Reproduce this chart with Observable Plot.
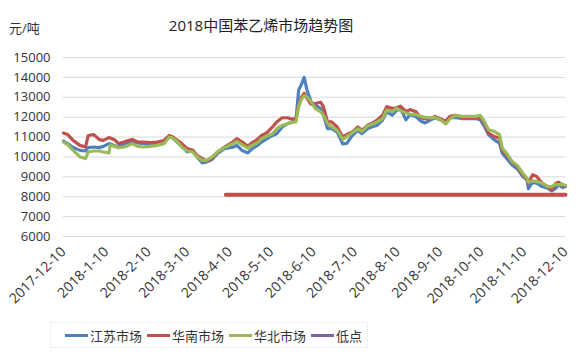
<!DOCTYPE html>
<html>
<head>
<meta charset="utf-8">
<script src="https://cdn.jsdelivr.net/npm/d3@7"></script>
<script src="https://cdn.jsdelivr.net/npm/@observablehq/plot@0.6"></script>
<style>
  html, body { margin: 0; padding: 0; background: #fff; }
  body { font-family: "Open Sans", "Noto Sans CJK SC", sans-serif; }
  #wrap { position: relative; width: 586px; height: 359px; overflow: hidden; }
  #title { position: absolute; top: 14px; left: 111px; width: 300px; text-align: center; font-size: 15px; color: #222; }
  #unit { position: absolute; top: 18px; left: 9px; font-size: 13px; color: #333; }
  #chart { position: absolute; top: 40px; left: 0; }
  #chart g[aria-label="x-axis tick label"] { font-size: 14px; }
  #legend { position: absolute; top: 322px; left: 50px; width: 318px; height: 26px; border: 1px solid #f0f0f0;
            display: flex; align-items: center; font-size: 13px; color: #333; box-sizing: border-box; padding-left: 14px;
            white-space: nowrap; }
  .item { display: flex; align-items: center; width: 82px; flex: 0 0 82px; white-space: nowrap; }
  .sw { width: 23px; height: 3px; margin-right: 2px; flex: 0 0 23px; }
</style>
</head>
<body>
<div id="wrap">
  <div id="title">2018中国苯乙烯市场趋势图</div>
  <div id="unit">元/吨</div>
  <div id="chart"></div>
  <div id="legend"></div>
</div>
<script>
const dates = [
  "2017-12-10","2017-12-13","2017-12-17","2017-12-22","2017-12-26","2017-12-28",
  "2018-01-01","2018-01-05","2018-01-08","2018-01-12","2018-01-13","2018-01-16","2018-01-19","2018-01-23","2018-01-26","2018-01-29",
  "2018-02-02","2018-02-06","2018-02-11","2018-02-16","2018-02-21","2018-02-25","2018-02-27",
  "2018-03-03","2018-03-06","2018-03-10","2018-03-14","2018-03-17","2018-03-21","2018-03-24","2018-03-28",
  "2018-04-01","2018-04-06","2018-04-12","2018-04-15","2018-04-19","2018-04-23","2018-04-26","2018-04-30",
  "2018-05-03","2018-05-07","2018-05-11","2018-05-14","2018-05-18","2018-05-22","2018-05-25","2018-05-28","2018-05-30",
  "2018-06-01","2018-06-03","2018-06-05","2018-06-08","2018-06-11","2018-06-15","2018-06-17","2018-06-20","2018-06-23","2018-06-27",
  "2018-07-01","2018-07-04","2018-07-08","2018-07-12","2018-07-15","2018-07-19","2018-07-22","2018-07-26","2018-07-30",
  "2018-08-02","2018-08-06","2018-08-09","2018-08-12","2018-08-16","2018-08-19","2018-08-23","2018-08-27","2018-08-30",
  "2018-09-03","2018-09-06","2018-09-10","2018-09-14","2018-09-17","2018-09-21","2018-09-26",
  "2018-10-01","2018-10-06","2018-10-09","2018-10-12","2018-10-15","2018-10-19","2018-10-23","2018-10-25","2018-10-29",
  "2018-11-01","2018-11-05","2018-11-09","2018-11-12","2018-11-13","2018-11-16","2018-11-19","2018-11-23","2018-11-27","2018-11-30",
  "2018-12-03","2018-12-05","2018-12-08","2018-12-10"
];
const jiangsu = [
  10800,10670,10470,10330,10300,10470,
  10500,10470,10530,10670,10650,10580,10500,10670,10720,10750,
  10700,10670,10630,10670,10720,11030,10970,
  10720,10530,10250,10330,10000,9700,9750,9870,
  10170,10420,10490,10580,10320,10200,10410,10580,
  10750,10920,11080,11170,11510,11680,11730,11850,13370,
  13650,14000,13370,12780,12610,12440,12100,11420,11420,11250,
  10660,10680,11080,11340,11170,11420,11510,11590,11850,
  12270,12100,12330,12430,11870,12130,12040,11790,11710,
  11870,11960,11870,11790,11960,11990,11920,
  11920,11920,11870,11540,11120,10870,10700,10190,9860,
  9610,9400,9020,8850,8400,8730,8680,8510,8430,8290,
  8430,8600,8460,8510
];
const huanan = [
  11200,11130,10830,10580,10500,11080,
  11120,10870,10830,10970,10950,10870,10670,10750,10830,10880,
  10750,10750,10720,10750,10830,11080,11030,
  10830,10670,10420,10330,10080,9920,9800,9920,
  10250,10500,10750,10920,10750,10540,10710,10880,
  11080,11220,11510,11760,11970,11970,11900,11930,12610,
  13000,13200,12950,12640,12690,12750,12530,11760,11760,11510,
  11000,11130,11250,11510,11340,11590,11680,11850,12100,
  12530,12440,12470,12550,12290,12380,12290,11960,11920,
  11920,12040,11920,11790,12040,12090,11990,
  11990,11990,11990,11710,11200,11030,10950,10360,10030,
  9770,9520,9100,8850,8680,9100,9020,8680,8510,8340,
  8680,8730,8560,8560
];
const huabei = [
  10750,10620,10330,10000,9920,10250,
  10300,10300,10250,10200,10580,10530,10470,10500,10580,10670,
  10530,10500,10530,10580,10670,11000,10970,
  10750,10500,10300,10250,10000,9830,9830,10000,
  10250,10470,10660,10780,10610,10440,10580,10710,
  10920,11050,11170,11420,11590,11680,11730,11760,12530,
  12900,13080,13030,12780,12440,12270,12100,11680,11510,11340,
  10880,11020,11220,11420,11290,11560,11630,11760,11930,
  12360,12270,12450,12330,12210,12160,12130,12040,11990,
  11960,11990,11870,11660,11920,12090,12040,
  12040,12040,12090,11790,11370,11290,11120,10450,10110,
  9770,9570,9180,8930,8730,8800,8770,8680,8510,8510,
  8630,8600,8630,8560
];
const lowDates = ["2018-04-07", "2018-12-10"];
const lowValues = [8100, 8100];

const seriesNames = ["江苏市场", "华南市场", "华北市场", "低点"];
const seriesColors = ["#4f81bd", "#c0504d", "#9bbb59", "#8064a2"];
const lowLineColor = "#c0504d";
const yTicks = [6000, 7000, 8000, 9000, 10000, 11000, 12000, 13000, 14000, 15000];
const xTickLabels = ["2017-12-10","2018-1-10","2018-2-10","2018-3-10","2018-4-10","2018-5-10","2018-6-10",
                     "2018-7-10","2018-8-10","2018-9-10","2018-10-10","2018-11-10","2018-12-10"];

const parse = d3.utcParse("%Y-%m-%d");
const xTicks = xTickLabels.map(parse);
const mk = (vals) => dates.map((d, i) => ({date: parse(d), value: vals[i]}));
const lowData = lowDates.map((d, i) => ({date: parse(d), value: lowValues[i]}));
const fmt = d3.utcFormat("%Y-%-m-%-d");

const chart = Plot.plot({
  width: 586,
  height: 275,
  marginLeft: 63,
  marginRight: 21,
  marginTop: 17,
  marginBottom: 79,
  style: {fontFamily: "'Open Sans', 'Noto Sans CJK SC', sans-serif", fontSize: "13px", color: "#333", background: "transparent"},
  x: {type: "utc", domain: [xTicks[0], xTicks[xTicks.length - 1]], ticks: xTicks, tickFormat: fmt,
      tickRotate: -45, tickSize: 0, tickPadding: 13, label: null},
  y: {domain: [6000, 15000], ticks: yTicks, tickSize: 0, tickPadding: 13, label: null, tickFormat: d => String(d)},
  marks: [
    Plot.ruleY(yTicks, {stroke: "#d9d9d9", strokeWidth: 1}),
    Plot.line(mk(jiangsu), {x: "date", y: "value", stroke: seriesColors[0], strokeWidth: 3.2, strokeLinejoin: "round"}),
    Plot.line(mk(huanan), {x: "date", y: "value", stroke: seriesColors[1], strokeWidth: 3.2, strokeLinejoin: "round"}),
    Plot.line(mk(huabei), {x: "date", y: "value", stroke: seriesColors[2], strokeWidth: 3.2, strokeLinejoin: "round"}),
    Plot.line(lowData, {x: "date", y: "value", stroke: lowLineColor, strokeWidth: 4})
  ]
});
document.getElementById("chart").appendChild(chart);

const legend = document.getElementById("legend");
seriesNames.forEach((name, i) => {
  const it = document.createElement("div");
  it.className = "item";
  const sw = document.createElement("div");
  sw.className = "sw";
  sw.style.background = seriesColors[i];
  const t = document.createElement("span");
  t.textContent = name;
  it.appendChild(sw); it.appendChild(t);
  legend.appendChild(it);
});
</script>
</body>
</html>
